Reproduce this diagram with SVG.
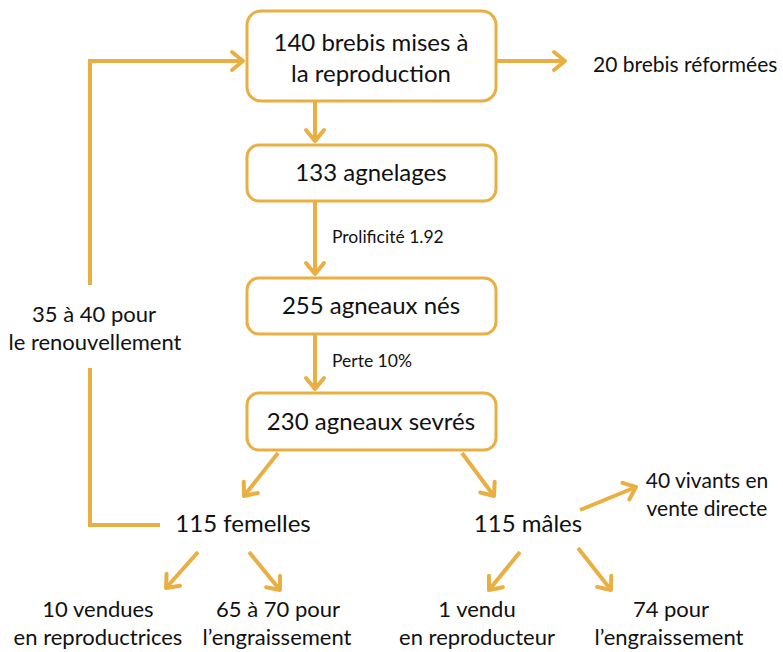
<svg xmlns="http://www.w3.org/2000/svg" width="783" height="652" viewBox="0 0 783 652">
<style>
.box{fill:#fff;stroke:#E9AF43;stroke-width:3}
.ln{fill:none;stroke:#E9AF43;stroke-width:4}
.t{font-family:Lato,"Liberation Sans",sans-serif;font-size:22px;fill:#111}
.b{font-size:24px}
.r{font-size:21px}
.s{font-family:Lato,"Liberation Sans",sans-serif;font-size:17.5px;fill:#111}
.m{text-anchor:middle}
</style>
<defs>
<marker id="ah" markerUnits="userSpaceOnUse" markerWidth="30" markerHeight="30" refX="14" refY="12" orient="auto">
<path d="M3,3 L14,12 L3,21" fill="none" stroke="#E9AF43" stroke-width="4" stroke-linecap="round" stroke-linejoin="round"/>
</marker>
</defs>
<rect width="783" height="652" fill="#fff"/>
<g id="connectors">
<path class="ln" d="M315,101 V141" marker-end="url(#ah)"/>
<path class="ln" d="M315,201 V274" marker-end="url(#ah)"/>
<path class="ln" d="M315,334 V389" marker-end="url(#ah)"/>
<path class="ln" d="M496,61 H565" marker-end="url(#ah)"/>
<path class="ln" d="M90,285 V61 H243" marker-end="url(#ah)"/>
<path class="ln" d="M90,368 V525 H160"/>
<path class="ln" d="M278,453 L244,496" marker-end="url(#ah)"/>
<path class="ln" d="M462,453 L494,496" marker-end="url(#ah)"/>
<path class="ln" d="M198,552 L166,588" marker-end="url(#ah)"/>
<path class="ln" d="M249,552 L280,590" marker-end="url(#ah)"/>
<path class="ln" d="M520,552 L489,590" marker-end="url(#ah)"/>
<path class="ln" d="M578,548 L611,590" marker-end="url(#ah)"/>
<path class="ln" d="M580,510 L636,487" marker-end="url(#ah)"/>
</g>
<g id="n1"><rect class="box" x="247" y="11" width="249" height="90" rx="14"/>
<text class="t b m" x="371" y="51">140 brebis mises à</text>
<text class="t b m" x="371" y="82">la reproduction</text></g>
<g id="n2"><rect class="box" x="247" y="145" width="249" height="56" rx="12"/>
<text class="t b m" x="371" y="181">133 agnelages</text></g>
<g id="n3"><rect class="box" x="247" y="278" width="249" height="56" rx="12"/>
<text class="t b m" x="371" y="314">255 agneaux nés</text></g>
<g id="n4"><rect class="box" x="247" y="393" width="249" height="57" rx="12"/>
<text class="t b m" x="371" y="430">230 agneaux sevrés</text></g>
<g id="l1"><text class="s" x="332" y="243">Prolificité 1.92</text></g>
<g id="l2"><text class="s" x="332" y="367">Perte 10%</text></g>
<g id="n5"><text class="t r" x="593" y="72">20 brebis réformées</text></g>
<g id="n6"><text class="t m" x="94" y="322">35 à 40 pour</text><text class="t m" x="95" y="350">le renouvellement</text></g>
<g id="n7"><text class="t b m" x="243" y="532">115 femelles</text></g>
<g id="n8"><text class="t b m" x="528" y="532">115 mâles</text></g>
<g id="n9"><text class="t r m" x="707" y="488">40 vivants en</text><text class="t r m" x="707" y="516">vente directe</text></g>
<g id="n10"><text class="t m" x="98" y="617">10 vendues</text><text class="t m" x="98" y="645">en reproductrices</text></g>
<g id="n11"><text class="t m" x="278" y="617">65 à 70 pour</text><text class="t m" x="277" y="645">l’engraissement</text></g>
<g id="n12"><text class="t m" x="477" y="617">1 vendu</text><text class="t m" x="477" y="645">en reproducteur</text></g>
<g id="n13"><text class="t m" x="671" y="617">74 pour</text><text class="t m" x="669" y="645">l’engraissement</text></g>
</svg>
